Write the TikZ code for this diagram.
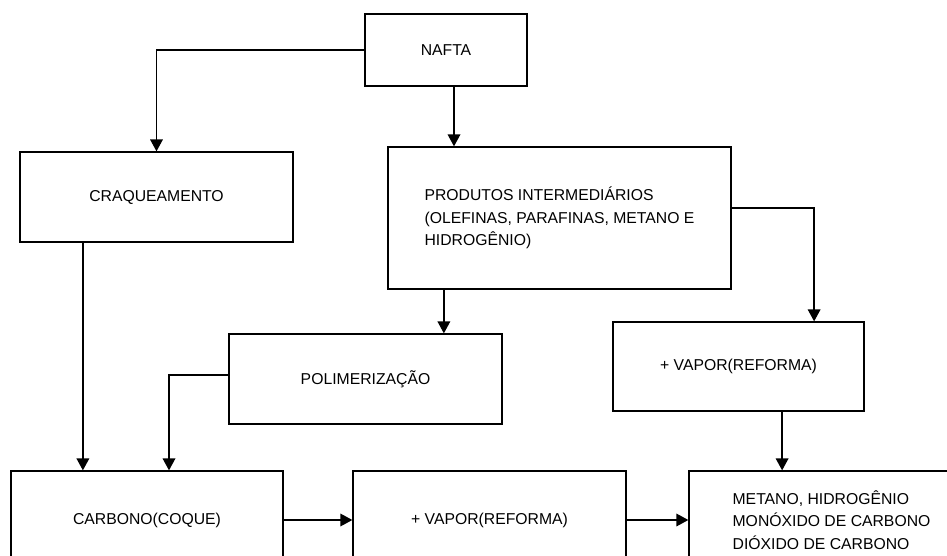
\documentclass[tikz,border=0pt]{standalone}
\usepackage{fontspec}
\setmainfont{Liberation Sans}
\usetikzlibrary{arrows.meta}
\begin{document}
\begin{tikzpicture}[x=0.025cm, y=-0.025cm,
    box/.style={draw, line width=0.9pt, inner sep=0pt, align=left,
        font=\fontsize{11.2pt}{16.2pt}\selectfont},
    arr/.style={line width=0.9pt, -{Triangle[length=8.5pt, width=9pt]}}]
    \useasboundingbox (0,0) rectangle (947,556);
    \clip (0,0) rectangle (947,556);
    % Top row
    \node[box, minimum width=4.05cm, minimum height=1.8cm] (nafta) at (446,50) {NAFTA};
    \node[box, minimum width=6.825cm, minimum height=2.25cm] (craq) at (156.5,197) {CRAQUEAMENTO};
    \node[box, minimum width=8.575cm, minimum height=3.55cm] (prod) at (559.5,218)
        {PRODUTOS INTERMEDIÁRIOS\\(OLEFINAS, PARAFINAS, METANO E\\HIDROGÊNIO)};
    % Middle row
    \node[box, minimum width=6.825cm, minimum height=2.25cm] (poli) at (365.5,379) {POLIMERIZAÇÃO};
    \node[box, minimum width=6.275cm, minimum height=2.225cm] (vapor1) at (738.5,366.5) {+ VAPOR(REFORMA)};
    % Bottom row
    \node[box, minimum width=6.8cm, minimum height=2.45cm] (carb) at (147,520) {CARBONO(COQUE)};
    \node[box, minimum width=6.825cm, minimum height=2.45cm] (vapor2) at (489.5,520) {+ VAPOR(REFORMA)};
    \node[box, minimum width=7.125cm, minimum height=2.45cm] (gases) at (831.5,520)
        {METANO, HIDROGÊNIO\\MONÓXIDO DE CARBONO\\DIÓXIDO DE CARBONO};
    % Arrows
    \draw[arr] (nafta.west) -| (craq.north);
    \draw[arr] ([xshift=0.2cm]nafta.south) -- ([xshift=0.2cm]nafta.south |- prod.north);
    \draw[arr] ([xshift=-2.89cm]prod.south) -- ([xshift=-2.89cm]prod.south |- poli.north);
    \draw[arr] ([yshift=0.25cm]prod.east) -| ([xshift=1.89cm]vapor1.north);
    \draw[arr] ([xshift=-1.84cm]craq.south) -- ([xshift=-1.84cm]craq.south |- carb.north);
    \draw[arr] ([yshift=0.1cm]poli.west) -| ([xshift=0.55cm]carb.north);
    \draw[arr] ([xshift=1.09cm]vapor1.south) -- ([xshift=1.09cm]vapor1.south |- gases.north);
    \draw[arr] (carb.east) -- (vapor2.west);
    \draw[arr] (vapor2.east) -- (gases.west);
\end{tikzpicture}
\end{document}
